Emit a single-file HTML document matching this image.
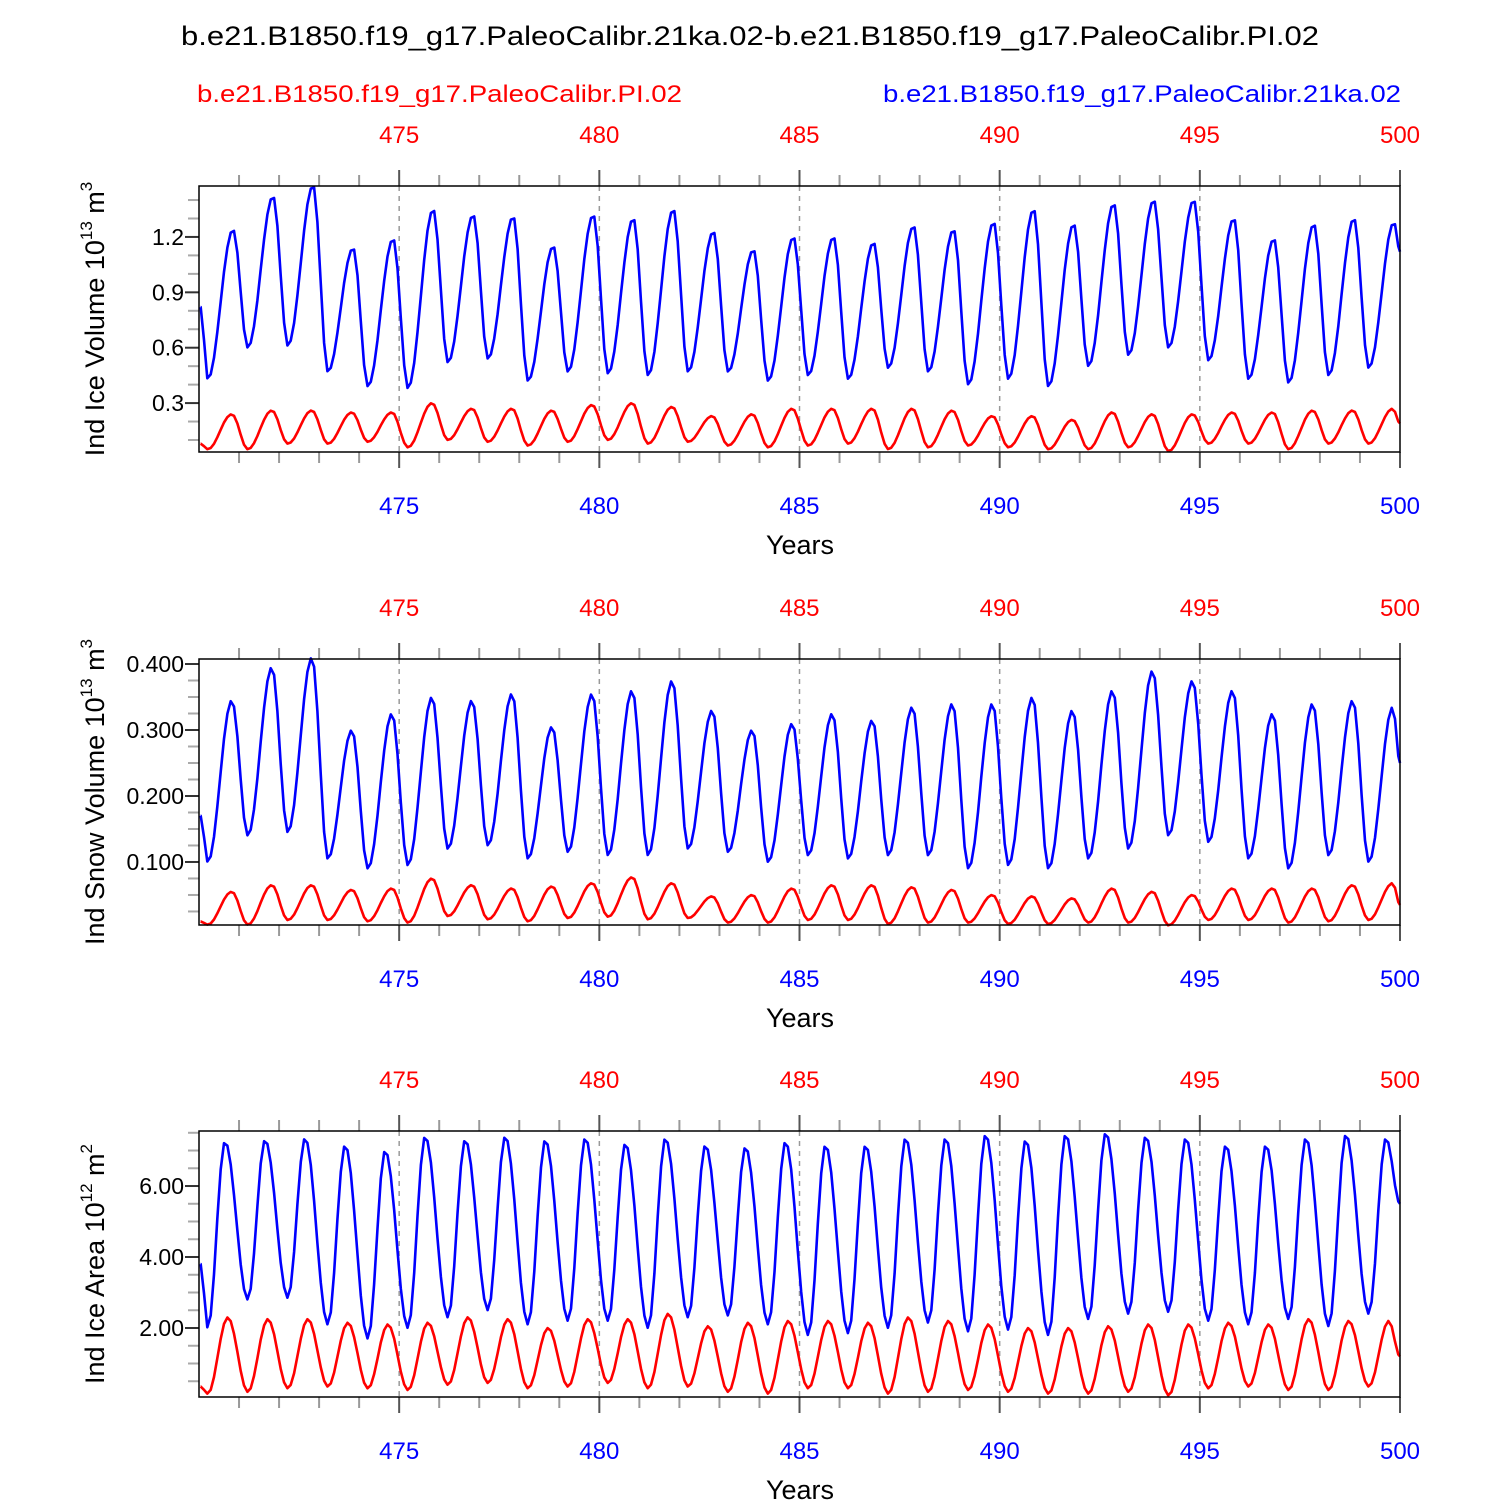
<!DOCTYPE html>
<html><head><meta charset="utf-8"><style>
body{margin:0;background:#fff}
svg{display:block;font-family:"Liberation Sans",sans-serif}
</style></head><body>
<svg id="c" width="1500" height="1500" viewBox="0 0 1500 1500">
<text x="181" y="45" font-size="27" textLength="1138" lengthAdjust="spacingAndGlyphs">b.e21.B1850.f19_g17.PaleoCalibr.21ka.02-b.e21.B1850.f19_g17.PaleoCalibr.PI.02</text>
<text x="197" y="102" font-size="24" fill="#f00" textLength="485" lengthAdjust="spacingAndGlyphs">b.e21.B1850.f19_g17.PaleoCalibr.PI.02</text>
<text x="883" y="102" font-size="24" fill="#00f" textLength="518" lengthAdjust="spacingAndGlyphs">b.e21.B1850.f19_g17.PaleoCalibr.21ka.02</text>
</svg>
<script>
// Panel 1: Ind Ice Volume
const iceVolBluePeaks=[1.24,1.42,1.48,1.14,1.19,1.35,1.32,1.31,1.15,1.32,1.30,1.35,1.23,1.13,1.20,1.20,1.17,1.26,1.24,1.28,1.35,1.27,1.38,1.40,1.40,1.30,1.19,1.27,1.30,1.28];
const iceVolBlueTroughs=[0.43,0.60,0.61,0.47,0.39,0.38,0.52,0.54,0.42,0.47,0.46,0.45,0.47,0.47,0.42,0.45,0.43,0.49,0.47,0.40,0.43,0.39,0.50,0.56,0.60,0.53,0.43,0.41,0.45,0.49];
const iceVolRedPeaks=[0.24,0.26,0.26,0.25,0.25,0.30,0.27,0.27,0.26,0.29,0.30,0.28,0.23,0.24,0.27,0.27,0.27,0.27,0.26,0.23,0.23,0.21,0.25,0.24,0.24,0.25,0.25,0.26,0.26,0.27];
const iceVolRedTroughs=[0.05,0.05,0.08,0.08,0.09,0.06,0.10,0.09,0.07,0.09,0.10,0.08,0.09,0.07,0.06,0.07,0.08,0.05,0.06,0.07,0.06,0.05,0.05,0.06,0.04,0.08,0.08,0.05,0.08,0.08];
// Panel 2: Ind Snow Volume
const snowBluePeaks=[0.345,0.395,0.41,0.30,0.325,0.35,0.345,0.355,0.305,0.355,0.36,0.375,0.33,0.30,0.31,0.325,0.315,0.335,0.34,0.34,0.35,0.33,0.36,0.39,0.375,0.36,0.325,0.34,0.345,0.335];
const snowBlueTroughs=[0.10,0.14,0.145,0.105,0.09,0.095,0.12,0.125,0.105,0.115,0.11,0.11,0.12,0.115,0.10,0.11,0.105,0.11,0.11,0.09,0.095,0.09,0.105,0.12,0.14,0.13,0.105,0.09,0.11,0.10];
const snowRedPeaks=[0.055,0.065,0.065,0.058,0.06,0.075,0.065,0.06,0.063,0.068,0.077,0.068,0.048,0.05,0.06,0.065,0.065,0.062,0.058,0.05,0.048,0.045,0.06,0.055,0.05,0.06,0.06,0.06,0.065,0.068];
const snowRedTroughs=[0.005,0.005,0.012,0.012,0.01,0.008,0.018,0.013,0.01,0.015,0.017,0.013,0.015,0.008,0.008,0.012,0.012,0.006,0.008,0.008,0.006,0.006,0.008,0.008,0.004,0.012,0.012,0.008,0.01,0.012];
// Panel 3: Ind Ice Area
const areaBluePeaks=[7.25,7.3,7.35,7.15,7.0,7.4,7.3,7.4,7.3,7.35,7.2,7.35,7.15,7.1,7.25,7.15,7.15,7.35,7.35,7.45,7.3,7.45,7.5,7.4,7.35,7.15,7.15,7.35,7.45,7.35];
const areaBlueTroughs=[2.0,2.8,2.85,2.1,1.7,2.0,2.3,2.5,2.1,2.2,2.2,2.0,2.3,2.35,2.1,1.8,1.85,2.0,2.15,1.9,1.95,1.8,2.25,2.4,2.45,2.2,2.1,2.25,2.05,2.4];
const areaRedPeaks=[2.3,2.25,2.25,2.15,2.1,2.15,2.3,2.25,2.0,2.25,2.25,2.4,2.05,2.15,2.2,2.2,2.15,2.3,2.2,2.1,2.0,2.0,2.05,2.1,2.1,2.15,2.1,2.25,2.2,2.2];
const areaRedTroughs=[0.15,0.2,0.3,0.35,0.3,0.25,0.4,0.45,0.3,0.35,0.45,0.3,0.35,0.2,0.15,0.3,0.3,0.15,0.2,0.25,0.2,0.15,0.15,0.2,0.1,0.3,0.35,0.25,0.25,0.35];
const yearTicks=[475,480,485,490,495,500];

const panels=[
 {top:186,bot:452,vmin:0.035,vmax:1.476,ticks:[0.3,0.6,0.9,1.2],minor:0.1,fmt:v=>v.toFixed(1),label:"Ind Ice Volume 10",exp:"13",unit:" m",uexp:"3",name:"ice-volume",
  series:[[iceVolBluePeaks,iceVolBlueTroughs,"#00f",0.85,0.82,1.12],[iceVolRedPeaks,iceVolRedTroughs,"#f00",0.82,0.08,0.19]]},
 {top:659,bot:925,vmin:0.0045,vmax:0.4076,ticks:[0.1,0.2,0.3,0.4],minor:0.025,fmt:v=>v.toFixed(3),label:"Ind Snow Volume 10",exp:"13",unit:" m",uexp:"3",name:"snow-volume",
  series:[[snowBluePeaks,snowBlueTroughs,"#00f",0.82,0.17,0.25],[snowRedPeaks,snowRedTroughs,"#f00",0.82,0.01,0.035]]},
 {top:1131,bot:1397,vmin:0.056,vmax:7.55,ticks:[2,4,6],minor:0.5,fmt:v=>v.toFixed(2),label:"Ind Ice Area 10",exp:"12",unit:" m",uexp:"2",name:"ice-area",
  series:[[areaBluePeaks,areaBlueTroughs,"#00f",0.65,3.8,5.5],[areaRedPeaks,areaRedTroughs,"#f00",0.72,0.35,1.2]]}
];
const NS="http://www.w3.org/2000/svg",svg=document.getElementById('c');
function mk(t,a,p){const e=document.createElementNS(NS,t);for(const k in a)e.setAttribute(k,a[k]);(p||svg).appendChild(e);return e;}
const X0=199,X1=1400,T0=470,T1=500;
const xs=t=>X0+(t-T0)*(X1-X0)/(T1-T0);
panels.forEach(p=>{
 const ys=v=>p.bot-(v-p.vmin)*(p.bot-p.top)/(p.vmax-p.vmin);
 const g=mk('g',{});
 
 
 yearTicks.slice(0,5).forEach(y=>{const l=mk('line',{x1:xs(y),x2:xs(y),y1:p.top,y2:p.bot,stroke:'#999','stroke-width':1.5,'stroke-dasharray':'5,5'},g);
  });
 for(let y=471;y<=500;y++){const maj=y%5==0;const len=maj?16:11;const c=maj?'#555':'#999';
  mk('line',{x1:xs(y),x2:xs(y),y1:p.top,y2:p.top-len,stroke:c,'stroke-width':2},g);
  mk('line',{x1:xs(y),x2:xs(y),y1:p.bot,y2:p.bot+len,stroke:c,'stroke-width':2},g);}
 yearTicks.forEach(y=>{
  const t1=mk('text',{x:xs(y),y:p.top-43,'font-size':24,fill:'#f00','text-anchor':'middle'},g);t1.textContent=y;
  
  const t2=mk('text',{x:xs(y),y:p.bot+62,'font-size':24,fill:'#00f','text-anchor':'middle'},g);t2.textContent=y;
  });
 const xt=mk('text',{x:800,y:p.bot+102,'font-size':27,'text-anchor':'middle'},g);xt.textContent="Years";
 
 for(let v=Math.ceil(p.vmin/p.minor)*p.minor;v<=p.vmax;v+=p.minor){
  const maj=p.ticks.some(t=>Math.abs(t-v)<1e-6);
  mk('line',{x1:X0,x2:X0-(maj?14:11),y1:ys(v),y2:ys(v),stroke:maj?'#333':'#aaa','stroke-width':2},g);}
 p.ticks.forEach(v=>{const t=mk('text',{x:X0-15,y:ys(v)+8,'font-size':23,'text-anchor':'end'},g);t.textContent=p.fmt(v);
  });
 const yt=mk('text',{transform:`translate(104,${(p.top+p.bot)/2}) rotate(-90)`,'font-size':27,'text-anchor':'middle'},g);
 yt.innerHTML=`${p.label}<tspan font-size="17" dy="-12">${p.exp}</tspan><tspan dy="12">${p.unit}</tspan><tspan font-size="17" dy="-12">${p.uexp}</tspan>`;
 
 p.series.forEach(([pk,tr,col,pf,v0,v1])=>{
  const ext=[[T0+0.04,v0]];
  for(let i=0;i<pk.length;i++){ext.push([T0+i+0.22,tr[i]]);ext.push([T0+i+pf,pk[i]]);}
  ext.push([T1,v1]);
  const pts=[];
  for(let m=0;m<360;m++){const t=T0+(m+0.5)/12;
   let k=0;while(k<ext.length-2&&ext[k+1][0]<t)k++;
   const [ta,va]=ext[k],[tb,vb]=ext[k+1];const f=Math.max(0,Math.min(1,(t-ta)/(tb-ta)));
   const v=va+(vb-va)*(1-Math.cos(Math.PI*f))/2;pts.push([t,v]);}
  pts.unshift(ext[0]);pts.push(ext[ext.length-1]);
  const l=mk('polyline',{points:pts.map(q=>xs(q[0]).toFixed(1)+','+ys(q[1]).toFixed(1)).join(' '),fill:'none',stroke:col,'stroke-width':2.6,'stroke-linejoin':'round'},g);
  
 });
 const fr=mk('rect',{x:X0,y:p.top,width:X1-X0,height:p.bot-p.top,fill:'none',stroke:'#000','stroke-width':1.5},g);
 
});
</script>
</body></html>
